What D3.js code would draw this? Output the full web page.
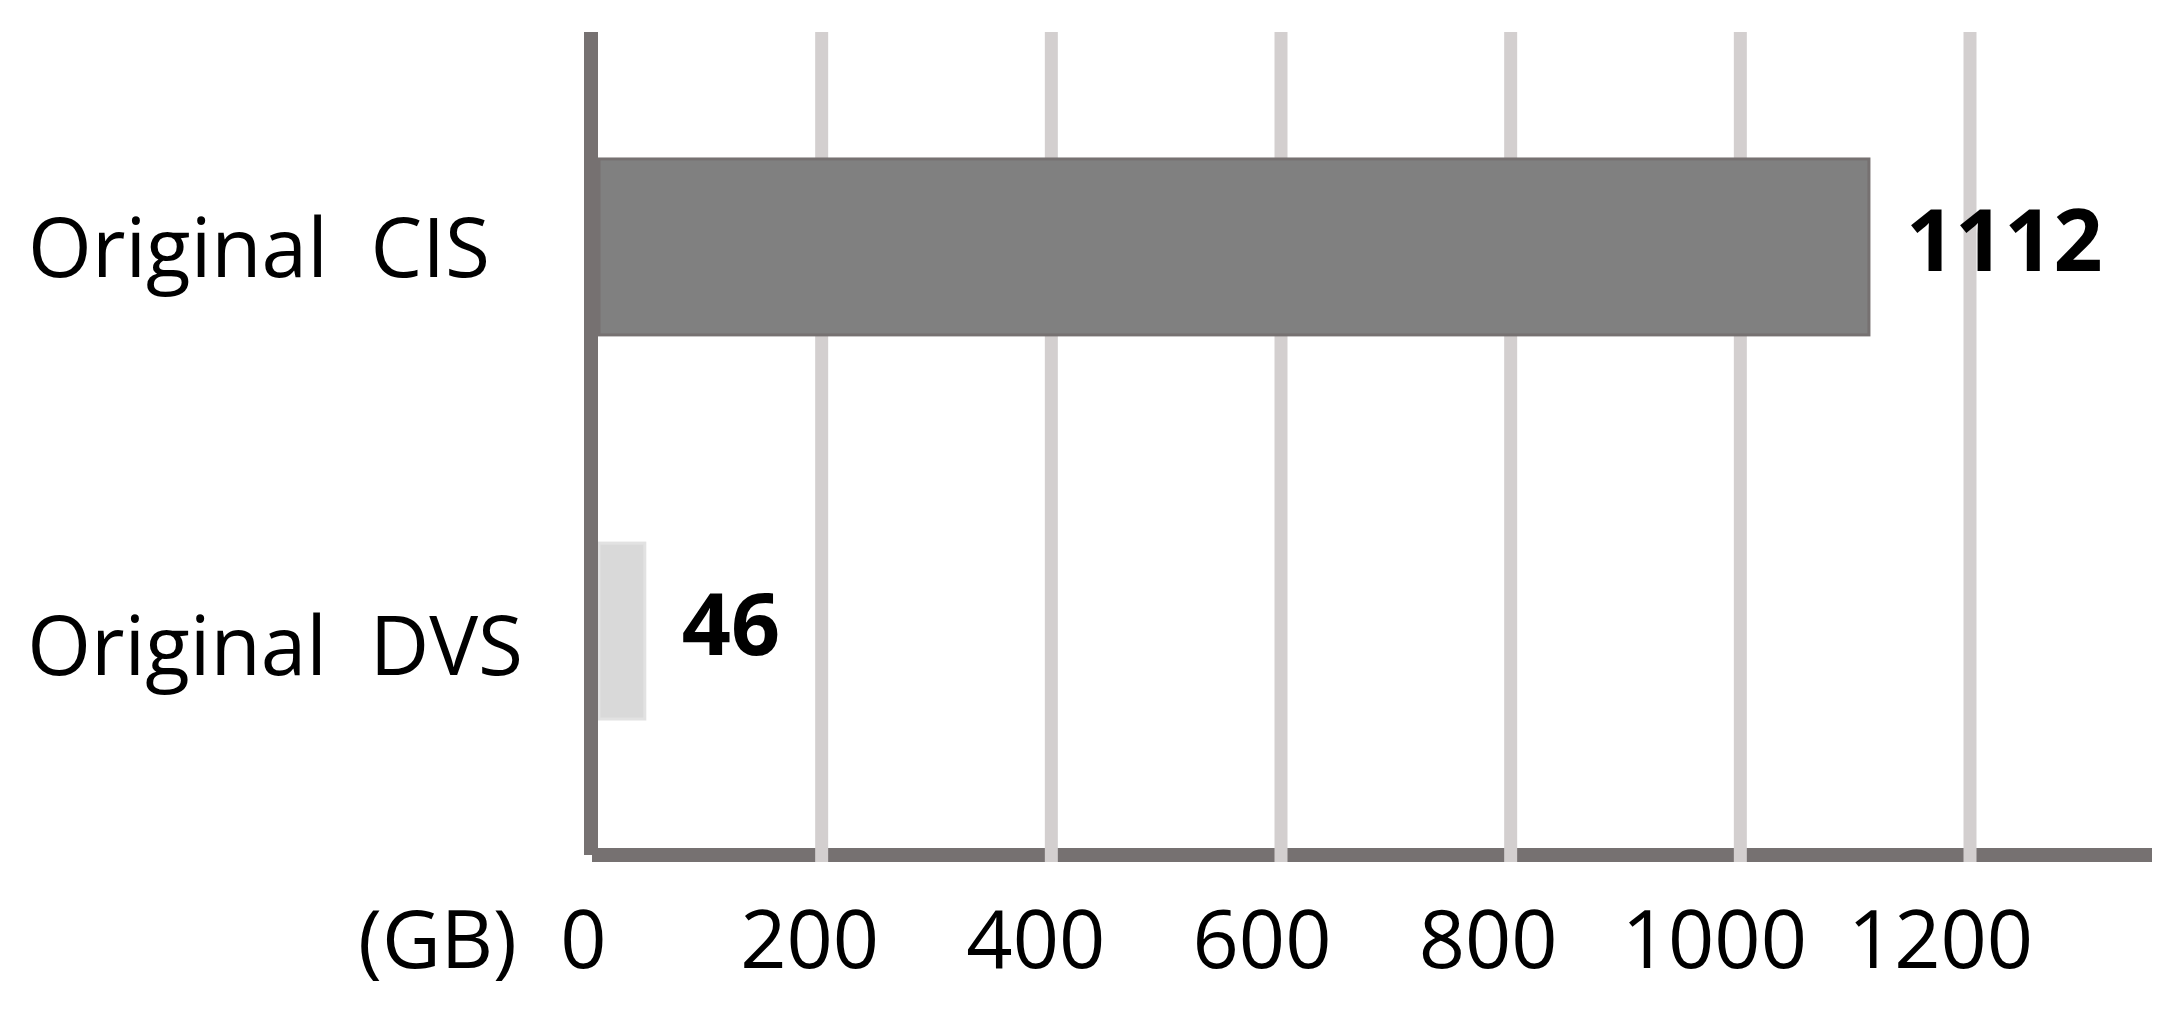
<!DOCTYPE html>
<html>
<head>
<style>
body { margin: 0; background: #fff; }
text { font-family: "Open Sans", "Noto Sans", sans-serif; fill: #000; }
</style>
</head>
<body>
<script src="https://cdn.jsdelivr.net/npm/d3@7"></script>
<script>
// data
var categories = ["Original  CIS", "Original  DVS"]
var values = [1112, 46]
var tickValues = [0, 200, 400, 600, 800, 1000, 1200]
var unitLabel = "(GB)"
var barColors = ["#808080", "#d9d9d9"]
var barStrokes = ["#767171", "#e2e2e2"]

var svgWidth = 2170
var svgHeight = 1017

var svg = d3.select("body").append("svg")
	.attr("width", svgWidth)
	.attr("height", svgHeight)

// plot box (don't call it "top", that's window.top)
var plotLeft = 592
var plotTop = 32
var plotBottom = 855
var axisRight = 2152

var x = d3.scaleLinear()
	.domain([0, 1200])
	.range([plotLeft, plotLeft + 1378])

// tick labels sit a bit tighter than the gridlines in the original
var xLabel = d3.scaleLinear()
	.domain([0, 1200])
	.range([583, 1940])

var y = d3.scaleBand()
	.domain(categories)
	.range([23, plotBottom])
	.paddingInner(0.542)
	.paddingOuter(0.354)

var data = categories.map(function(c, i) {
	return {name: c, value: values[i], fill: barColors[i], stroke: barStrokes[i]}
})

// bottom axis line (drawn first, gridlines cut through it)
svg.append("line")
	.attr("x1", plotLeft)
	.attr("x2", axisRight)
	.attr("y1", plotBottom)
	.attr("y2", plotBottom)
	.style("stroke", "#767171")
	.style("stroke-width", 14)

// vertical gridlines
svg.append("g").selectAll("line")
	.data(tickValues.slice(1))
	.enter().append("line")
	.attr("x1", function(d) { return x(d) })
	.attr("x2", function(d) { return x(d) })
	.attr("y1", plotTop)
	.attr("y2", plotBottom + 7)
	.style("stroke", "#d3cfcf")
	.style("stroke-width", 13)

// bars
svg.append("g").selectAll("rect")
	.data(data)
	.enter().append("rect")
	.attr("x", x(0) + 7)
	.attr("y", function(d) { return y(d.name) })
	.attr("width", function(d) { return x(d.value) - x(0) - 7 })
	.attr("height", y.bandwidth())
	.style("fill", function(d) { return d.fill })
	.style("stroke", function(d) { return d.stroke })
	.style("stroke-width", 3)

// value labels
svg.append("g").selectAll("text")
	.data(data)
	.enter().append("text")
	.attr("x", function(d) { return x(d.value) + 37 })
	.attr("y", function(d) { return y(d.name) + y.bandwidth() / 2 + 24 })
	.style("font-size", "86px")
	.style("font-weight", "bold")
	.text(function(d) { return d.value })

// category labels
svg.append("g").selectAll("text")
	.data(data)
	.enter().append("text")
	.attr("x", function(d, i) { return i == 0 ? 490 : 523 })
	.attr("y", function(d, i) { return y(d.name) + y.bandwidth() / 2 + (i == 0 ? 30 : 44) })
	.attr("text-anchor", "end")
	.style("font-size", "82px")
	.style("white-space", "pre")
	.text(function(d) { return d.name })

// vertical axis line on top
svg.append("line")
	.attr("x1", 591)
	.attr("x2", 591)
	.attr("y1", plotTop)
	.attr("y2", plotBottom)
	.style("stroke", "#767171")
	.style("stroke-width", 14)

// tick labels
var xAxis = d3.axisBottom(xLabel)
	.tickValues(tickValues)
	.tickSize(0)
	.tickFormat(d3.format("d"))

var gx = svg.append("g")
	.attr("transform", "translate(0,905)")
	.call(xAxis)
gx.select(".domain").remove()
gx.selectAll("text")
	.attr("dy", 0)
	.attr("y", 63)
	.style("font-size", "81px")
	.style("font-family", "'Open Sans', 'Noto Sans', sans-serif")
	.style("fill", "#000")

svg.append("text")
	.attr("x", 517)
	.attr("y", 968)
	.attr("text-anchor", "end")
	.style("font-size", "81px")
	.text(unitLabel)
</script>
</body>
</html>
